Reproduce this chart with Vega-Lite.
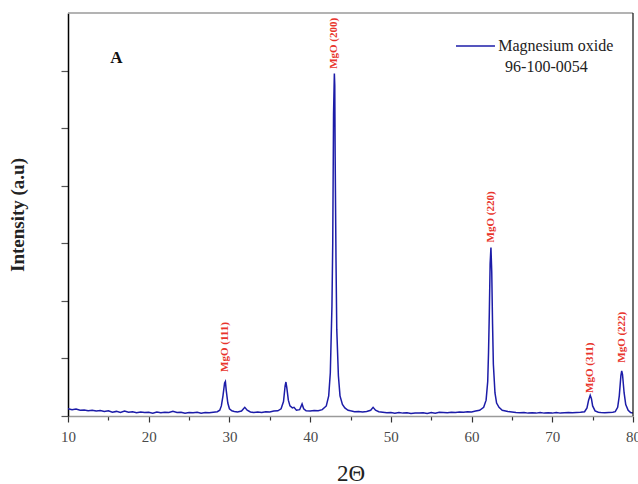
{
  "$schema": "https://vega.github.io/schema/vega-lite/v6.json",
  "width": 565,
  "height": 403,
  "autosize": {"type": "none"},
  "padding": {"left": 68, "top": 13, "right": 5, "bottom": 68},
  "background": "white",
  "config": {
    "view": {"stroke": null},
    "font": "Liberation Serif"
  },
  "datasets": {
    "xrd": [
      {"theta": 10.0, "intensity": 0.25}, {"theta": 10.5, "intensity": 0.22}, {"theta": 11.0, "intensity": 0.24},
      {"theta": 11.5, "intensity": 0.2}, {"theta": 12.0, "intensity": 0.21}, {"theta": 12.5, "intensity": 0.18},
      {"theta": 13.0, "intensity": 0.2}, {"theta": 13.5, "intensity": 0.17}, {"theta": 14.0, "intensity": 0.19},
      {"theta": 14.5, "intensity": 0.16}, {"theta": 15.0, "intensity": 0.18}, {"theta": 15.5, "intensity": 0.13},
      {"theta": 16.0, "intensity": 0.16}, {"theta": 16.5, "intensity": 0.12}, {"theta": 17.0, "intensity": 0.17},
      {"theta": 17.5, "intensity": 0.13}, {"theta": 18.0, "intensity": 0.15}, {"theta": 18.5, "intensity": 0.11},
      {"theta": 19.0, "intensity": 0.14}, {"theta": 19.5, "intensity": 0.12}, {"theta": 20.0, "intensity": 0.13},
      {"theta": 20.5, "intensity": 0.1}, {"theta": 21.0, "intensity": 0.14}, {"theta": 21.5, "intensity": 0.11},
      {"theta": 22.0, "intensity": 0.13}, {"theta": 22.5, "intensity": 0.12}, {"theta": 23.0, "intensity": 0.16},
      {"theta": 23.5, "intensity": 0.12}, {"theta": 24.0, "intensity": 0.13}, {"theta": 24.5, "intensity": 0.1},
      {"theta": 25.0, "intensity": 0.12}, {"theta": 25.5, "intensity": 0.11}, {"theta": 26.0, "intensity": 0.13},
      {"theta": 26.5, "intensity": 0.1}, {"theta": 27.0, "intensity": 0.12}, {"theta": 27.5, "intensity": 0.11},
      {"theta": 28.0, "intensity": 0.13}, {"theta": 28.5, "intensity": 0.15}, {"theta": 28.8, "intensity": 0.2},
      {"theta": 29.0, "intensity": 0.35}, {"theta": 29.2, "intensity": 0.7}, {"theta": 29.4, "intensity": 1.15},
      {"theta": 29.5, "intensity": 1.2}, {"theta": 29.6, "intensity": 0.9}, {"theta": 29.8, "intensity": 0.45},
      {"theta": 30.0, "intensity": 0.25}, {"theta": 30.3, "intensity": 0.18}, {"theta": 30.6, "intensity": 0.16},
      {"theta": 31.0, "intensity": 0.14}, {"theta": 31.5, "intensity": 0.17}, {"theta": 31.9, "intensity": 0.3},
      {"theta": 32.2, "intensity": 0.2}, {"theta": 32.6, "intensity": 0.14}, {"theta": 33.0, "intensity": 0.12},
      {"theta": 33.5, "intensity": 0.14}, {"theta": 34.0, "intensity": 0.12}, {"theta": 34.5, "intensity": 0.15},
      {"theta": 35.0, "intensity": 0.14}, {"theta": 35.5, "intensity": 0.17}, {"theta": 36.0, "intensity": 0.18},
      {"theta": 36.4, "intensity": 0.25}, {"theta": 36.7, "intensity": 0.5}, {"theta": 36.9, "intensity": 1.05},
      {"theta": 37.0, "intensity": 1.18}, {"theta": 37.1, "intensity": 1.0}, {"theta": 37.3, "intensity": 0.55},
      {"theta": 37.5, "intensity": 0.35}, {"theta": 37.8, "intensity": 0.28}, {"theta": 38.0, "intensity": 0.3},
      {"theta": 38.3, "intensity": 0.2}, {"theta": 38.7, "intensity": 0.22}, {"theta": 39.0, "intensity": 0.42},
      {"theta": 39.2, "intensity": 0.25}, {"theta": 39.5, "intensity": 0.18}, {"theta": 40.0, "intensity": 0.17},
      {"theta": 40.5, "intensity": 0.19}, {"theta": 41.0, "intensity": 0.18}, {"theta": 41.5, "intensity": 0.22},
      {"theta": 42.0, "intensity": 0.35}, {"theta": 42.3, "intensity": 0.7}, {"theta": 42.5, "intensity": 1.5},
      {"theta": 42.7, "intensity": 3.8}, {"theta": 42.8, "intensity": 6.0}, {"theta": 42.9, "intensity": 10.5},
      {"theta": 43.0, "intensity": 11.9}, {"theta": 43.05, "intensity": 11.5}, {"theta": 43.1, "intensity": 9.0},
      {"theta": 43.2, "intensity": 5.5}, {"theta": 43.3, "intensity": 3.0}, {"theta": 43.5, "intensity": 1.4},
      {"theta": 43.7, "intensity": 0.7}, {"theta": 44.0, "intensity": 0.4}, {"theta": 44.3, "intensity": 0.28},
      {"theta": 44.7, "intensity": 0.2}, {"theta": 45.0, "intensity": 0.18}, {"theta": 45.5, "intensity": 0.15},
      {"theta": 46.0, "intensity": 0.16}, {"theta": 46.5, "intensity": 0.14}, {"theta": 47.0, "intensity": 0.16},
      {"theta": 47.5, "intensity": 0.2}, {"theta": 47.8, "intensity": 0.3}, {"theta": 48.1, "intensity": 0.2},
      {"theta": 48.5, "intensity": 0.15}, {"theta": 49.0, "intensity": 0.13}, {"theta": 49.5, "intensity": 0.11},
      {"theta": 50.0, "intensity": 0.12}, {"theta": 50.5, "intensity": 0.1}, {"theta": 51.0, "intensity": 0.12},
      {"theta": 51.5, "intensity": 0.1}, {"theta": 52.0, "intensity": 0.11}, {"theta": 52.5, "intensity": 0.09},
      {"theta": 53.0, "intensity": 0.1}, {"theta": 53.5, "intensity": 0.1}, {"theta": 54.0, "intensity": 0.11},
      {"theta": 54.5, "intensity": 0.09}, {"theta": 55.0, "intensity": 0.12}, {"theta": 55.5, "intensity": 0.1},
      {"theta": 56.0, "intensity": 0.13}, {"theta": 56.5, "intensity": 0.12}, {"theta": 57.0, "intensity": 0.11},
      {"theta": 57.5, "intensity": 0.13}, {"theta": 58.0, "intensity": 0.12}, {"theta": 58.5, "intensity": 0.14},
      {"theta": 59.0, "intensity": 0.13}, {"theta": 59.5, "intensity": 0.15}, {"theta": 60.0, "intensity": 0.14},
      {"theta": 60.5, "intensity": 0.17}, {"theta": 61.0, "intensity": 0.2}, {"theta": 61.5, "intensity": 0.3},
      {"theta": 61.8, "intensity": 0.55}, {"theta": 62.0, "intensity": 1.2}, {"theta": 62.1, "intensity": 2.2},
      {"theta": 62.2, "intensity": 3.6}, {"theta": 62.3, "intensity": 5.3}, {"theta": 62.4, "intensity": 5.85},
      {"theta": 62.5, "intensity": 5.0}, {"theta": 62.6, "intensity": 3.2}, {"theta": 62.7, "intensity": 1.8},
      {"theta": 62.9, "intensity": 0.8}, {"theta": 63.1, "intensity": 0.45}, {"theta": 63.4, "intensity": 0.3},
      {"theta": 63.8, "intensity": 0.2}, {"theta": 64.5, "intensity": 0.16}, {"theta": 65.0, "intensity": 0.14},
      {"theta": 65.5, "intensity": 0.12}, {"theta": 66.0, "intensity": 0.11}, {"theta": 66.5, "intensity": 0.12},
      {"theta": 67.0, "intensity": 0.1}, {"theta": 67.5, "intensity": 0.11}, {"theta": 68.0, "intensity": 0.1},
      {"theta": 68.5, "intensity": 0.12}, {"theta": 69.0, "intensity": 0.1}, {"theta": 69.5, "intensity": 0.11},
      {"theta": 70.0, "intensity": 0.1}, {"theta": 70.5, "intensity": 0.12}, {"theta": 71.0, "intensity": 0.1},
      {"theta": 71.5, "intensity": 0.11}, {"theta": 72.0, "intensity": 0.12}, {"theta": 72.5, "intensity": 0.11},
      {"theta": 73.0, "intensity": 0.12}, {"theta": 73.5, "intensity": 0.13}, {"theta": 74.0, "intensity": 0.15},
      {"theta": 74.3, "intensity": 0.28}, {"theta": 74.5, "intensity": 0.55}, {"theta": 74.7, "intensity": 0.72},
      {"theta": 74.85, "intensity": 0.6}, {"theta": 75.0, "intensity": 0.35}, {"theta": 75.3, "intensity": 0.18},
      {"theta": 75.7, "intensity": 0.13}, {"theta": 76.0, "intensity": 0.12}, {"theta": 76.5, "intensity": 0.11},
      {"theta": 77.0, "intensity": 0.12}, {"theta": 77.5, "intensity": 0.13}, {"theta": 77.8, "intensity": 0.15},
      {"theta": 78.1, "intensity": 0.3}, {"theta": 78.3, "intensity": 0.7}, {"theta": 78.5, "intensity": 1.4},
      {"theta": 78.6, "intensity": 1.57}, {"theta": 78.7, "intensity": 1.45}, {"theta": 78.9, "intensity": 0.8},
      {"theta": 79.1, "intensity": 0.4}, {"theta": 79.4, "intensity": 0.2}, {"theta": 79.7, "intensity": 0.12},
      {"theta": 80.0, "intensity": 0.1}
    ],
    "peaks": [
      {"theta": 29.5, "intensity": 1.53, "label": "MgO (111)"},
      {"theta": 43.0, "intensity": 12.06, "label": "MgO (200)"},
      {"theta": 62.4, "intensity": 6.03, "label": "MgO (220)"},
      {"theta": 74.7, "intensity": 0.8, "label": "MgO (311)"},
      {"theta": 78.6, "intensity": 1.85, "label": "MgO (222)"}
    ],
    "legendText": [
      {"theta": 63.3, "intensity": 12.85, "label": "Magnesium oxide"},
      {"theta": 64.15, "intensity": 12.12, "label": "96-100-0054"}
    ]
  },
  "layer": [
    {
      "data": {"name": "xrd"},
      "mark": {"type": "line", "strokeWidth": 1.5, "clip": true, "color": "#1c1ca8"},
      "encoding": {
        "x": {
          "field": "theta", "type": "quantitative",
          "scale": {"domain": [10, 80], "nice": false, "zero": false},
          "axis": {
            "title": "2Θ",
            "values": [10, 15, 20, 25, 30, 35, 40, 45, 50, 55, 60, 65, 70, 75, 80],
            "labelExpr": "datum.value % 10 == 0 ? datum.label : ''",
            "grid": false,
            "domainColor": "#9a9a9a",
            "domainWidth": 1.5,
            "tickColor": "#333333",
            "tickSize": {"condition": {"test": "datum.value % 10 == 0", "value": 6}, "value": 4},
            "tickWidth": 1.2,
            "labelFont": "Liberation Serif",
            "labelFontSize": 15,
            "labelColor": "#4a4a4a",
            "labelPadding": 7,
            "labelFlush": false,
            "titleFont": "Liberation Serif",
            "titleFontSize": 23,
            "titleFontWeight": "normal",
            "titleColor": "#222222",
            "titlePadding": 18
          }
        },
        "y": {
          "field": "intensity", "type": "quantitative",
          "scale": {"domain": [0, 14], "nice": false},
          "axis": {
            "title": "Intensity (a.u)",
            "values": [0, 1, 2, 3, 4, 5, 6, 7, 8, 9, 10, 11, 12, 13],
            "labels": false,
            "grid": false,
            "domainColor": "#000000",
            "domainWidth": 1.5,
            "tickColor": "#555555",
            "tickSize": {"condition": {"test": "datum.value % 2 == 0", "value": 7}, "value": 4},
            "tickWidth": 1.2,
            "titleFont": "Liberation Serif",
            "titleFontSize": 19,
            "titleFontWeight": "bold",
            "titleColor": "#222222",
            "titlePadding": 33
          }
        }
      }
    },
    {
      "data": {"values": [{"x1": 58.07, "x2": 62.9, "y1": 12.85}]},
      "mark": {"type": "rule", "color": "#1c1ca8", "strokeWidth": 1.5},
      "encoding": {
        "x": {"field": "x1", "type": "quantitative"},
        "x2": {"field": "x2"},
        "y": {"field": "y1", "type": "quantitative"}
      }
    },
    {
      "data": {"name": "legendText"},
      "mark": {"type": "text", "align": "left", "baseline": "middle", "font": "Liberation Serif", "fontSize": 16, "color": "#222222"},
      "encoding": {
        "x": {"field": "theta", "type": "quantitative"},
        "y": {"field": "intensity", "type": "quantitative"},
        "text": {"field": "label"}
      }
    },
    {
      "data": {"name": "peaks"},
      "mark": {"type": "text", "angle": 270, "align": "left", "baseline": "middle", "font": "Liberation Serif", "fontSize": 11, "fontWeight": "bold", "color": "#e8342c"},
      "encoding": {
        "x": {"field": "theta", "type": "quantitative"},
        "y": {"field": "intensity", "type": "quantitative"},
        "text": {"field": "label"}
      }
    },
    {
      "data": {"values": [{"theta": 16.0, "intensity": 12.45, "label": "A"}]},
      "mark": {"type": "text", "align": "center", "baseline": "middle", "font": "Liberation Serif", "fontSize": 17, "fontWeight": "bold", "color": "#111111"},
      "encoding": {
        "x": {"field": "theta", "type": "quantitative"},
        "y": {"field": "intensity", "type": "quantitative"},
        "text": {"field": "label"}
      }
    },
    {
      "data": {"values": [{"x1": 10, "x2": 80, "y1": 14}]},
      "mark": {"type": "rule", "color": "#9a9a9a", "strokeWidth": 1.5},
      "encoding": {
        "x": {"field": "x1", "type": "quantitative"},
        "x2": {"field": "x2"},
        "y": {"field": "y1", "type": "quantitative"}
      }
    },
    {
      "data": {"values": [{"x1": 80, "y1": 0, "y2": 14}]},
      "mark": {"type": "rule", "color": "#111111", "strokeWidth": 1.2},
      "encoding": {
        "x": {"field": "x1", "type": "quantitative"},
        "y": {"field": "y1", "type": "quantitative"},
        "y2": {"field": "y2"}
      }
    }
  ]
}
